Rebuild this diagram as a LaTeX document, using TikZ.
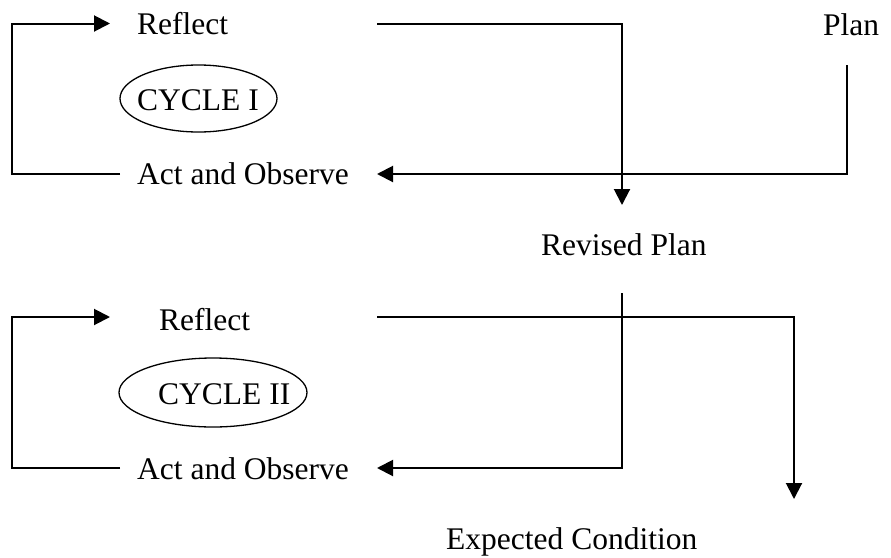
\documentclass[tikz,border=0pt]{standalone}
\usepackage{fontspec}
\setmainfont{Liberation Serif}
\usetikzlibrary{arrows.meta,shapes.geometric}
\begin{document}
\begin{tikzpicture}[x=1pt,y=-1pt,
  lbl/.style={anchor=base west,inner sep=0pt,font=\fontsize{31.5}{36}\selectfont},
  cyc/.style={draw,ellipse,line width=1.3pt,inner sep=0pt},
  conn/.style={line width=2pt},
  arr/.style={conn,-{Triangle[length=16pt,width=16pt]}}]
\useasboundingbox (0,0) rectangle (891,557);
% texts
\node[lbl] (refA) at (137,34) {Reflect};
\node[lbl] (actA) at (137,184) {Act and Observe};
\node[lbl] (plan) at (823,35) {Plan};
\node[lbl] (rev) at (541,255) {Revised Plan};
\node[lbl] (refB) at (159,330) {Reflect};
\node[lbl] (actB) at (137,479) {Act and Observe};
\node[lbl] (exp) at (446,549) {Expected Condition};
% cycles
\node[cyc,minimum width=157pt,minimum height=67pt] (cycA) at (198.5,98.5) {};
\node[lbl] (cycAt) at (137,110) {CYCLE I};
\node[cyc,minimum width=188pt,minimum height=69pt] (cycB) at (213,392.5) {};
\node[lbl] (cycBt) at (158,404) {CYCLE II};
% connector ends
\coordinate (a1) at (120,173.5);
\coordinate (a2) at (110,23.5);
\coordinate (a3) at (377,23.5);
\coordinate (a4) at (622,205);
\coordinate (a5) at (847,65);
\coordinate (a6) at (377,174);
\coordinate (b1) at (120,468);
\coordinate (b2) at (110,317);
\coordinate (b3) at (377,317);
\coordinate (b4) at (794,499);
\coordinate (b5) at (622,293);
\coordinate (b6) at (377,468);
% connectors cycle I
\draw[arr] (a1) -- (12,173.5) -- (12,23.5) -- (a2);
\draw[arr] (a3) -- (622,23.5) -- (a4);
\draw[arr] (a5) -- (847,174) -- (a6);
% connectors cycle II
\draw[arr] (b1) -- (12,468) -- (12,317) -- (b2);
\draw[arr] (b3) -- (794,317) -- (b4);
\draw[arr] (b5) -- (622,468) -- (b6);
\end{tikzpicture}
\end{document}
